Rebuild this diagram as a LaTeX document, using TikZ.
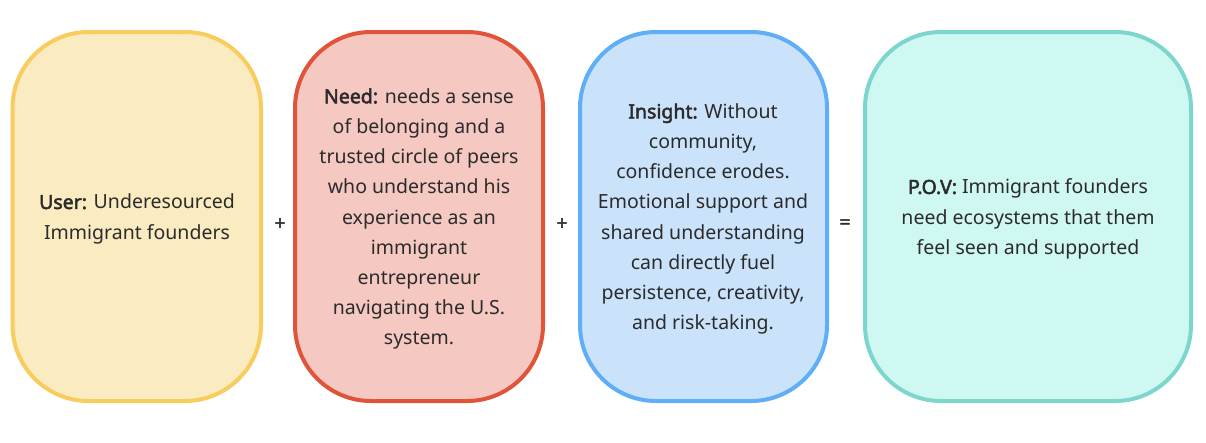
\documentclass[tikz,border=0pt]{standalone}
\usepackage{fontspec}
\setmainfont{Noto Sans}[BoldFont={Noto Sans},BoldFeatures={FakeBold=2.5}]
\definecolor{txt}{HTML}{2B2B2B}
\definecolor{yfill}{HTML}{FAEBC0}
\definecolor{ydraw}{HTML}{F8CD5E}
\definecolor{rfill}{HTML}{F5C8C2}
\definecolor{rdraw}{HTML}{E0553A}
\definecolor{bfill}{HTML}{CAE3FB}
\definecolor{bdraw}{HTML}{5FAEF7}
\definecolor{tfill}{HTML}{CFF8F3}
\definecolor{tdraw}{HTML}{7DD6CB}
\tikzset{
  card/.style={draw, line width=4pt, rounded corners=76pt},
  cardtext/.style={text=txt, align=center, font=\fontsize{19.5}{30.2}\selectfont},
  opsign/.style={text=txt, font=\fontsize{19}{20}\selectfont\bfseries}
}
\begin{document}
\begin{tikzpicture}[x=1pt,y=-1pt]
\useasboundingbox (0,0) rectangle (1206,442);
\draw[card, fill=yfill, draw=ydraw] (12.5,32) rectangle (261,401);
\draw[card, fill=rfill, draw=rdraw] (295,32) rectangle (543,401);
\draw[card, fill=bfill, draw=bdraw] (580,32) rectangle (827,401);
\draw[card, fill=tfill, draw=tdraw] (865,32) rectangle (1191,401);
\node[cardtext] (user) at (137,219) {\textbf{User:} Underesourced\\Immigrant founders};
\node[cardtext] (need) at (419,219) {\textbf{Need:} needs a sense\\of belonging and a\\trusted circle of peers\\who understand his\\experience as an\\immigrant\\entrepreneur\\navigating the U.S.\\system.};
\node[cardtext] (insight) at (703,219) {\textbf{Insight:} Without\\community,\\confidence erodes.\\Emotional support and\\shared understanding\\can directly fuel\\persistence, creativity,\\and risk-taking.};
\node[cardtext] (pov) at (1028,219) {\textbf{P.O.V:} Immigrant founders\\need ecosystems that them\\feel seen and supported};
\node[opsign] (plus1) at (280,224) {+};
\node[opsign] (plus2) at (562,224) {+};
\node[opsign] (eq) at (845,224) {=};
\end{tikzpicture}
\end{document}
